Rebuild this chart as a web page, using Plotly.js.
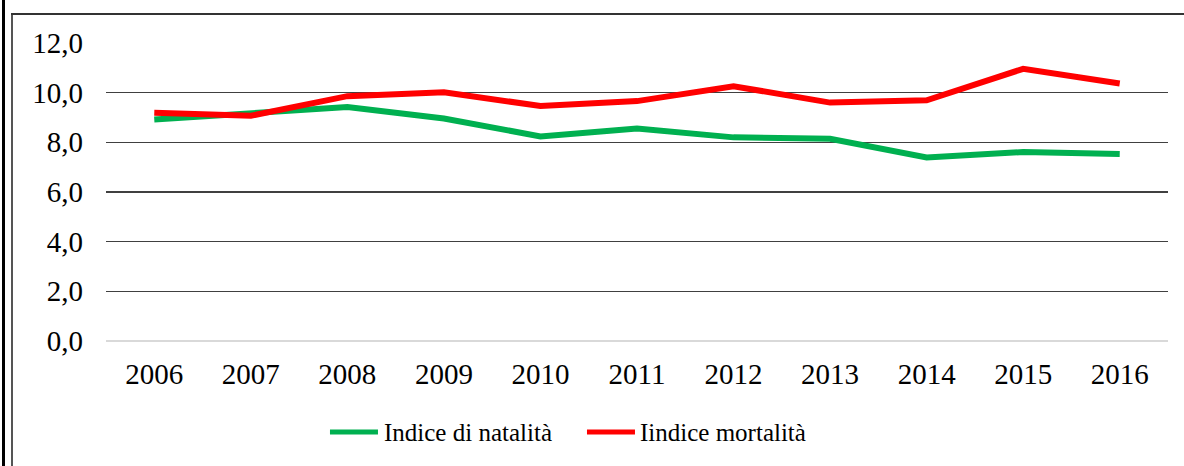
<!DOCTYPE html>
<html>
<head>
<meta charset="utf-8">
<script src="https://cdn.plot.ly/plotly-3.0.1.min.js"></script>
<style>
  html, body { margin: 0; padding: 0; background: #fff; }
  #wrap { position: relative; width: 1184px; height: 466px; overflow: hidden; }
  #chart { position: absolute; left: 0; top: 0; width: 1184px; height: 466px; }
  .b { position: absolute; pointer-events: none; }
</style>
</head>
<body>
<div id="wrap">
  <div id="chart"></div>
  <div class="b" style="left:2px; top:0; width:3px; height:466px; background:#000;"></div>
  <div class="b" style="left:11px; top:13px; width:2px; height:453px; background:#555;"></div>
  <div class="b" style="left:11px; top:13px; width:1173px; height:2px; background:#333;"></div>
</div>
<script>
const years = ['2006','2007','2008','2009','2010','2011','2012','2013','2014','2015','2016'];
const natalita = [8.92, 9.16, 9.42, 8.96, 8.24, 8.56, 8.20, 8.14, 7.39, 7.61, 7.53];
const mortalita = [9.19, 9.07, 9.86, 10.02, 9.46, 9.66, 10.26, 9.60, 9.69, 10.96, 10.37];
const seriesNames = ['Indice di natalità', 'Iindice mortalità'];
const seriesColors = ['#00b050', '#ff0000'];

const fam = 'Liberation Serif';
const font = { family: fam, color: '#000' };

const traces = [natalita, mortalita].map((vals, i) => ({
  type: 'scatter', mode: 'lines', x: years, y: vals, name: seriesNames[i],
  line: { color: seriesColors[i], width: 6 }, showlegend: false, hoverinfo: 'skip'
}));

// custom legend (longer samples like the original)
const legY = -0.3054;
const legItems = [
  { x0: 0.2109, x1: 0.2561, tx: 0.2599 },
  { x0: 0.4529, x1: 0.4981, tx: 0.5009 }
];
const shapes = legItems.map((it, i) => ({
  type: 'line', xref: 'paper', yref: 'paper', x0: it.x0, x1: it.x1, y0: legY, y1: legY,
  line: { color: seriesColors[i], width: 5 }
}));
const annotations = legItems.map((it, i) => ({
  xref: 'paper', yref: 'paper', x: it.tx, y: legY, xanchor: 'left', yanchor: 'middle',
  text: seriesNames[i], showarrow: false, font: { family: fam, size: 25, color: '#000' }
}));

const layout = {
  width: 1184, height: 466,
  margin: { l: 106, r: 16, t: 43, b: 125 },
  paper_bgcolor: '#fff', plot_bgcolor: '#fff',
  separators: ',.',
  font: font,
  showlegend: false,
  xaxis: {
    type: 'category', range: [-0.5, 10.5], showgrid: false, zeroline: false, showline: false,
    ticks: '', tickfont: { family: fam, size: 29, color: '#000' }, ticklabelstandoff: 13, fixedrange: true
  },
  yaxis: {
    range: [0, 12], dtick: 2, tick0: 0, tickformat: '.1f',
    showgrid: true, gridcolor: '#404040', gridwidth: 1.3,
    zeroline: true, zerolinecolor: '#d9d9d9', zerolinewidth: 1.5, showline: false,
    ticks: '', tickfont: { family: fam, size: 29, color: '#000' }, ticklabelstandoff: 22, fixedrange: true
  },
  shapes: shapes,
  annotations: annotations
};

Plotly.newPlot('chart', traces, layout, { staticPlot: true, displayModeBar: false });
</script>
</body>
</html>
